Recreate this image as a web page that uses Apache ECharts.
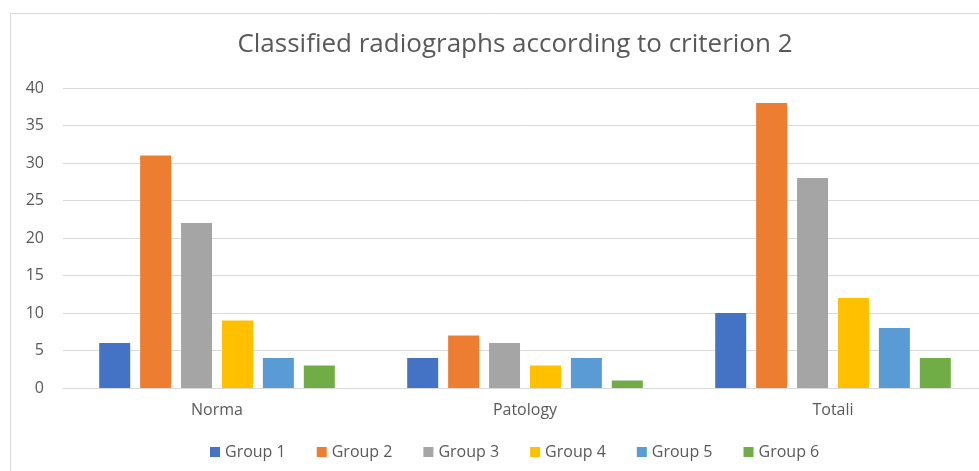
<!DOCTYPE html>
<html>
<head>
<meta charset="utf-8">
<script src="https://cdn.jsdelivr.net/npm/echarts@6/dist/echarts.min.js"></script>
<style>
html,body{margin:0;padding:0;background:#fff;}
#c{width:979px;height:471px;}
</style>
</head>
<body>
<div id="c"></div>
<script>
const categories = ['Norma', 'Patology', 'Totali'];
const seriesNames = ['Group 1', 'Group 2', 'Group 3', 'Group 4', 'Group 5', 'Group 6'];
const group1 = [6, 4, 10];
const group2 = [31, 7, 38];
const group3 = [22, 6, 28];
const group4 = [9, 3, 12];
const group5 = [4, 4, 8];
const group6 = [3, 1, 4];
const colors = ['#4472C4', '#ED7D31', '#A5A5A5', '#FFC000', '#5B9BD5', '#70AD47'];
const allData = [group1, group2, group3, group4, group5, group6];

const chart = echarts.init(document.getElementById('c'));
const font = '"Open Sans", sans-serif';
chart.setOption({
  animation: false,
  color: colors,
  title: {
    text: 'Classified radiographs according to criterion 2',
    left: 510, top: 27, textAlign: 'center',
    textStyle: { fontFamily: font, fontSize: 26, fontWeight: 'normal', color: '#595959' }
  },
  graphic: [{
    type: 'rect', left: 8, top: 11, silent: true,
    shape: { width: 1100, height: 600 },
    style: { fill: 'none', stroke: '#d9d9d9', lineWidth: 1 }
  }],
  legend: {
    bottom: 6, left: 205, itemWidth: 10, itemHeight: 10, itemGap: 31,
    icon: 'rect',
    textStyle: { fontFamily: font, fontSize: 16, color: '#595959' },
    data: seriesNames
  },
  grid: { left: 63, top: 88, width: 924, height: 300, outerBoundsMode: 'none', containLabel: false },
  xAxis: {
    type: 'category', data: categories,
    axisLine: { lineStyle: { color: '#d9d9d9' } },
    axisTick: { show: false },
    axisLabel: { fontFamily: font, fontSize: 16, color: '#595959', margin: 14 }
  },
  yAxis: {
    type: 'value', min: 0, max: 40, interval: 5,
    splitLine: { lineStyle: { color: '#d9d9d9' } },
    axisLabel: { fontFamily: font, fontSize: 16, color: '#595959', margin: 19 }
  },
  series: seriesNames.map((n, i) => ({
    name: n, type: 'bar', data: allData[i],
    barWidth: 31, barGap: '32%'
  }))
});
</script>
</body>
</html>
